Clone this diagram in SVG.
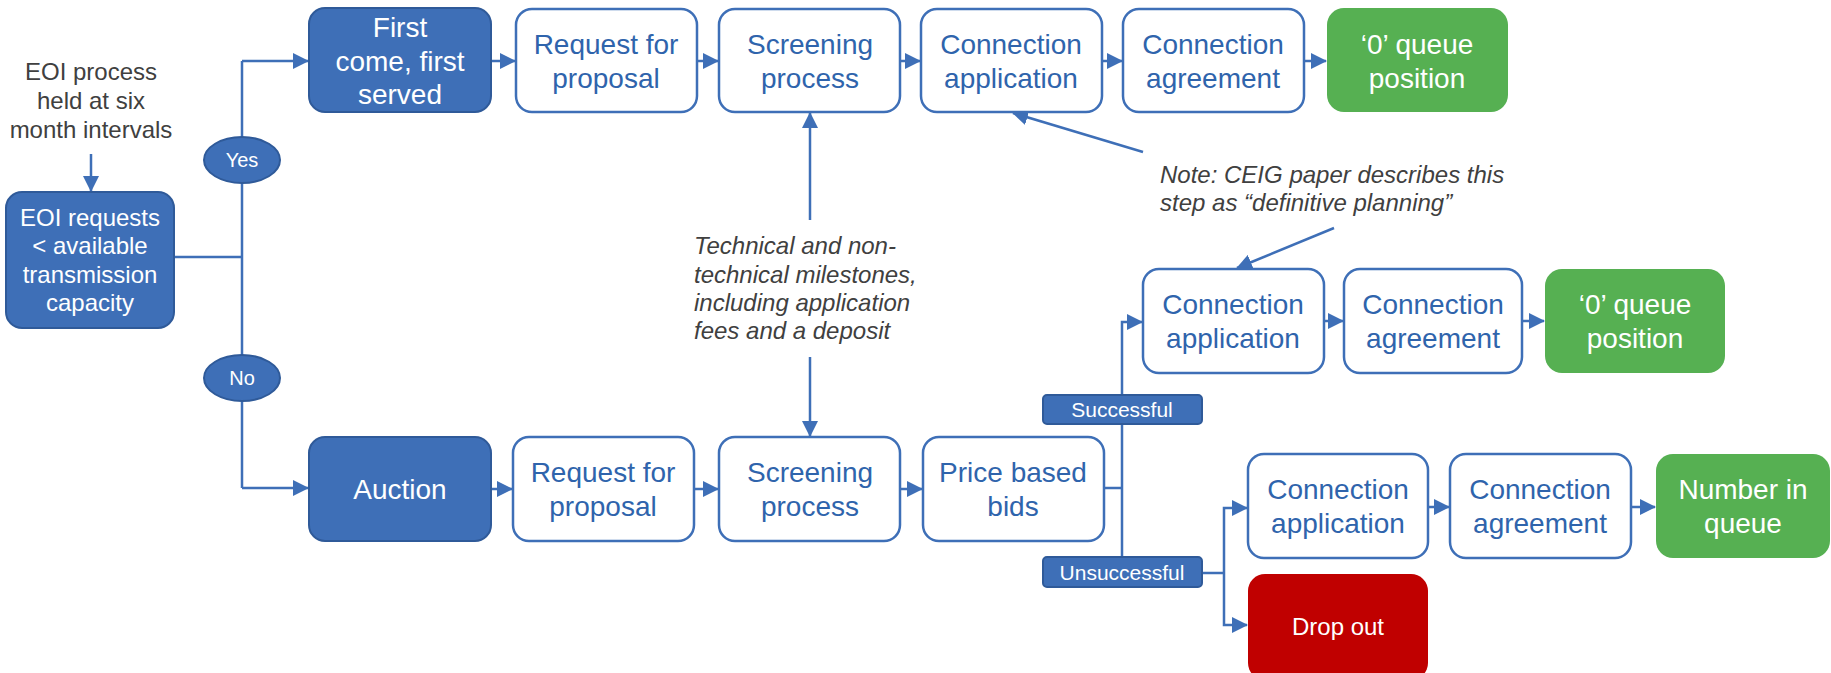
<svg xmlns="http://www.w3.org/2000/svg" width="1831" height="673" viewBox="0 0 1831 673">
<defs>
<style>
.dark{fill:#3E6FB7;stroke:#2F5A99;stroke-width:2}
.wht{fill:#fff;stroke:#3E6FB7;stroke-width:2.5}
.grn{fill:#56B052}
.red{fill:#C00000}
.t{font-family:"Liberation Sans",Arial,sans-serif;text-anchor:middle}
.tw{fill:#fff;font-size:28px}
.tb{fill:#2F64AC;font-size:28px}
.ts{fill:#fff;font-size:24px}
.tl{fill:#fff;font-size:21px}
.tg{font-family:"Liberation Sans",Arial,sans-serif;fill:#404040;font-size:24px}
.it{font-style:italic}
.c{fill:none;stroke:#3E6FB7;stroke-width:2.5}
</style>
<marker id="ah" markerUnits="userSpaceOnUse" markerWidth="16" markerHeight="16" viewBox="0 0 16 16" refX="15" refY="8" orient="auto">
<path d="M0,0 L16,8 L0,16 Z" fill="#3E6FB7"/>
</marker>
</defs>
<rect width="1831" height="673" fill="#fff"/>

<g id="connectors">
<path class="c" d="M91,154 V191" marker-end="url(#ah)"/>
<path class="c" d="M174,257 H242"/>
<path class="c" d="M242,61 V488"/>
<path class="c" d="M242,61 H308" marker-end="url(#ah)"/>
<path class="c" d="M242,488 H308" marker-end="url(#ah)"/>
<path class="c" d="M491,61 H515" marker-end="url(#ah)"/>
<path class="c" d="M697,61 H718" marker-end="url(#ah)"/>
<path class="c" d="M900,61 H920" marker-end="url(#ah)"/>
<path class="c" d="M1102,61 H1122" marker-end="url(#ah)"/>
<path class="c" d="M1304,61 H1326" marker-end="url(#ah)"/>
<path class="c" d="M491,489 H512" marker-end="url(#ah)"/>
<path class="c" d="M694,489 H718" marker-end="url(#ah)"/>
<path class="c" d="M900,489 H922" marker-end="url(#ah)"/>
<path class="c" d="M810,220 V113" marker-end="url(#ah)"/>
<path class="c" d="M810,357 V436" marker-end="url(#ah)"/>
<path class="c" d="M1143,152 L1013,113" marker-end="url(#ah)"/>
<path class="c" d="M1334,228 L1237,268" marker-end="url(#ah)"/>
<path class="c" d="M1104,488 H1122"/>
<path class="c" d="M1122,557 V322 H1142" marker-end="url(#ah)"/>
<path class="c" d="M1324,321 H1343" marker-end="url(#ah)"/>
<path class="c" d="M1522,321 H1544" marker-end="url(#ah)"/>
<path class="c" d="M1202,573 H1224"/>
<path class="c" d="M1224,573 V508 H1247" marker-end="url(#ah)"/>
<path class="c" d="M1224,573 V625 H1247" marker-end="url(#ah)"/>
<path class="c" d="M1428,507 H1449" marker-end="url(#ah)"/>
<path class="c" d="M1631,507 H1655" marker-end="url(#ah)"/>
</g>

<g id="eoi-note">
<text class="tg" text-anchor="middle"><tspan x="91" y="80">EOI process</tspan><tspan x="91" y="109">held at six</tspan><tspan x="91" y="138">month intervals</tspan></text>
</g>

<g id="eoi-requests">
<rect class="dark" x="6" y="192" width="168" height="136" rx="16"/>
<text class="t ts"><tspan x="90" y="226">EOI requests</tspan><tspan x="90" y="254">&lt; available</tspan><tspan x="90" y="283">transmission</tspan><tspan x="90" y="311">capacity</tspan></text>
</g>

<g id="yes">
<ellipse class="dark" cx="242" cy="160" rx="38" ry="23"/>
<text class="t" fill="#fff" font-size="20" x="242" y="167">Yes</text>
</g>
<g id="no">
<ellipse class="dark" cx="242" cy="378" rx="38" ry="23"/>
<text class="t" fill="#fff" font-size="20" x="242" y="385">No</text>
</g>

<g id="first-come">
<rect class="dark" x="309" y="8" width="182" height="104" rx="16"/>
<text class="t tw"><tspan x="400" y="37">First</tspan><tspan x="400" y="71">come, first</tspan><tspan x="400" y="104">served</tspan></text>
</g>
<g id="auction">
<rect class="dark" x="309" y="437" width="182" height="104" rx="16"/>
<text class="t tw" x="400" y="499">Auction</text>
</g>

<g id="rfp-top">
<rect class="wht" x="516" y="9" width="181" height="103" rx="16"/>
<text class="t tb"><tspan x="606" y="54">Request for</tspan><tspan x="606" y="88">proposal</tspan></text>
</g>
<g id="screening-top">
<rect class="wht" x="719" y="9" width="181" height="103" rx="16"/>
<text class="t tb"><tspan x="810" y="54">Screening</tspan><tspan x="810" y="88">process</tspan></text>
</g>
<g id="conn-app-top">
<rect class="wht" x="921" y="9" width="181" height="103" rx="16"/>
<text class="t tb"><tspan x="1011" y="54">Connection</tspan><tspan x="1011" y="88">application</tspan></text>
</g>
<g id="conn-agr-top">
<rect class="wht" x="1123" y="9" width="181" height="103" rx="16"/>
<text class="t tb"><tspan x="1213" y="54">Connection</tspan><tspan x="1213" y="88">agreement</tspan></text>
</g>
<g id="queue-top">
<rect class="grn" x="1327" y="8" width="181" height="104" rx="17"/>
<text class="t tw"><tspan x="1417" y="54">‘0’ queue</tspan><tspan x="1417" y="88">position</tspan></text>
</g>

<g id="technical-note">
<text class="tg it"><tspan x="694" y="254">Technical and non-</tspan><tspan x="694" y="283">technical milestones,</tspan><tspan x="694" y="311">including application</tspan><tspan x="694" y="339">fees and a deposit</tspan></text>
</g>

<g id="ceig-note">
<text class="tg it"><tspan x="1160" y="183">Note: CEIG paper describes this</tspan><tspan x="1160" y="211">step as “definitive planning”</tspan></text>
</g>

<g id="rfp-bottom">
<rect class="wht" x="513" y="437" width="181" height="104" rx="16"/>
<text class="t tb"><tspan x="603" y="482">Request for</tspan><tspan x="603" y="516">proposal</tspan></text>
</g>
<g id="screening-bottom">
<rect class="wht" x="719" y="437" width="181" height="104" rx="16"/>
<text class="t tb"><tspan x="810" y="482">Screening</tspan><tspan x="810" y="516">process</tspan></text>
</g>
<g id="price-bids">
<rect class="wht" x="923" y="437" width="181" height="104" rx="16"/>
<text class="t tb"><tspan x="1013" y="482">Price based</tspan><tspan x="1013" y="516">bids</tspan></text>
</g>

<g id="successful">
<rect class="dark" x="1043" y="395" width="159" height="29" rx="4"/>
<text class="t tl" x="1122" y="417">Successful</text>
</g>
<g id="unsuccessful">
<rect class="dark" x="1043" y="557" width="159" height="30" rx="4"/>
<text class="t tl" x="1122" y="580">Unsuccessful</text>
</g>

<g id="conn-app-mid">
<rect class="wht" x="1143" y="269" width="181" height="104" rx="16"/>
<text class="t tb"><tspan x="1233" y="314">Connection</tspan><tspan x="1233" y="348">application</tspan></text>
</g>
<g id="conn-agr-mid">
<rect class="wht" x="1344" y="269" width="178" height="104" rx="16"/>
<text class="t tb"><tspan x="1433" y="314">Connection</tspan><tspan x="1433" y="348">agreement</tspan></text>
</g>
<g id="queue-mid">
<rect class="grn" x="1545" y="269" width="180" height="104" rx="17"/>
<text class="t tw"><tspan x="1635" y="314">‘0’ queue</tspan><tspan x="1635" y="348">position</tspan></text>
</g>

<g id="conn-app-low">
<rect class="wht" x="1248" y="454" width="180" height="104" rx="16"/>
<text class="t tb"><tspan x="1338" y="499">Connection</tspan><tspan x="1338" y="533">application</tspan></text>
</g>
<g id="conn-agr-low">
<rect class="wht" x="1450" y="454" width="181" height="104" rx="16"/>
<text class="t tb"><tspan x="1540" y="499">Connection</tspan><tspan x="1540" y="533">agreement</tspan></text>
</g>
<g id="number-in-queue">
<rect class="grn" x="1656" y="454" width="174" height="104" rx="17"/>
<text class="t tw"><tspan x="1743" y="499">Number in</tspan><tspan x="1743" y="533">queue</tspan></text>
</g>
<g id="drop-out">
<rect class="red" x="1248" y="574" width="180" height="106" rx="17"/>
<text class="t ts" x="1338" y="635">Drop out</text>
</g>
</svg>
